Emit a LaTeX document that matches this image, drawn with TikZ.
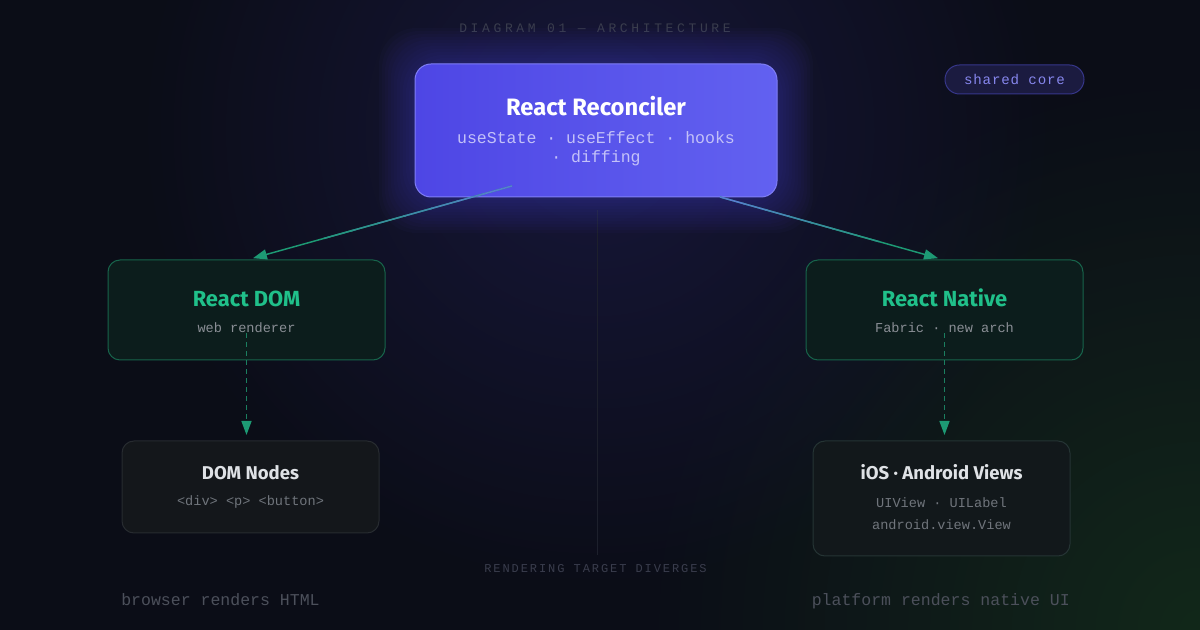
\documentclass[tikz,border=0pt]{standalone}
\usepackage{fontspec}
\setmainfont{Fira Sans}
\setmonofont{Liberation Mono}
\newfontfamily\spacedmono[LetterSpace=28]{Liberation Mono}
\newfontfamily\pillmono[LetterSpace=6]{Liberation Mono}
\newfontfamily\notemono[LetterSpace=16]{Liberation Mono}
\usetikzlibrary{arrows.meta,calc,fadings}
\tikzfading[name=softglow, inner color=transparent!0, outer color=transparent!100]

\definecolor{bgnavy}{HTML}{0B0D17}
\definecolor{bgtop}{HTML}{17173A}
\definecolor{bggreen}{HTML}{12281A}
\definecolor{glowpurple}{HTML}{5552E0}
\definecolor{recleft}{HTML}{4E46E5}
\definecolor{recright}{HTML}{6261F0}
\definecolor{recedge}{HTML}{7F7EF6}
\definecolor{recsub}{HTML}{C3C1F8}
\definecolor{pillfill}{HTML}{1B1B40}
\definecolor{pilledge}{HTML}{36368A}
\definecolor{pilltext}{HTML}{8787EE}
\definecolor{greenfill}{HTML}{0C1D1C}
\definecolor{greenedge}{HTML}{17644B}
\definecolor{greentitle}{HTML}{20C08A}
\definecolor{darkfill}{HTML}{14171B}
\definecolor{darkedge}{HTML}{272B30}
\definecolor{darktitle}{HTML}{DFE2E6}
\definecolor{subgray}{HTML}{8A8E95}
\definecolor{dimgray}{HTML}{70757C}
\definecolor{notegray}{HTML}{4C505B}
\definecolor{faintgray}{HTML}{3A3D4D}
\definecolor{divider}{HTML}{1D202C}
\definecolor{flowblue}{HTML}{5A7CD2}
\definecolor{arrowgreen}{HTML}{1D9A74}
\definecolor{dashgreen}{HTML}{1B7F60}

\begin{document}
\begin{tikzpicture}[x=0.75pt,y=-0.75pt,
  card/.style={rounded corners=9pt, line width=0.75pt, inner sep=0pt, outer sep=0pt},
  greencard/.style={card, draw=greenedge, fill=greenfill, minimum width=207.75pt, minimum height=75pt},
  darkcard/.style={card, draw=darkedge, fill=darkfill, minimum width=192.75pt},
  cardtitle/.style={anchor=base, font=\bfseries\fontsize{#1}{#1}\selectfont},
  cardsub/.style={anchor=base, text=subgray, font=\ttfamily\fontsize{10.2}{12}\selectfont},
  flow/.style={line width=1.1pt, draw=arrowgreen, shorten >=5pt, -{Triangle[length=10.5pt,width=7.5pt,color=arrowgreen]}},
  dashflow/.style={line width=1.1pt, draw=dashgreen, dash pattern=on 3.75pt off 3pt, shorten >=4.5pt, -{Triangle[length=10.5pt,width=7.5pt,color=arrowgreen]}}]

\useasboundingbox (0,0) rectangle (1200,630);
\fill[bgnavy] (0,0) rectangle (1200,630);
\begin{scope}
  \clip (0,0) rectangle (1200,630);
  \fill[bggreen, path fading=softglow] (1200,630) circle (560);
  \fill[bgtop, path fading=softglow] (596,130) circle (460);
\end{scope}

\node[anchor=base, text=faintgray, font=\spacedmono\fontsize{9.75}{12}\selectfont] (title) at (595,33) {DIAGRAM 01 — ARCHITECTURE};

\draw[divider, line width=0.75pt] (597,210) -- (597,555);

\foreach \g in {3,6,...,36}
  \fill[glowpurple, opacity=0.03, rounded corners=28pt] (415-\g,64-\g) rectangle (777+\g,197+\g);
\node[card, rounded corners=12pt, draw=recedge, left color=recleft, right color=recright, minimum width=271.5pt, minimum height=99.75pt] (rec) at (596,130.5) {};
\node[cardtitle=17.8, text=white] (rec-t) at (596,116) {React Reconciler};
\node[cardsub, text=recsub, font=\ttfamily\fontsize{12.4}{14}\selectfont] (rec-s1) at (596,144) {useState · useEffect · hooks};
\node[cardsub, text=recsub, font=\ttfamily\fontsize{12.4}{14}\selectfont] (rec-s2) at (596,163) {· diffing};

\node[card, rounded corners=10.875pt, draw=pilledge, fill=pillfill, minimum width=104.25pt, minimum height=21.75pt] (pill) at (1014.5,79.5) {};
\node[anchor=base, text=pilltext, font=\pillmono\fontsize{10.6}{12}\selectfont] (pill-t) at (1014.5,85) {shared core};

\node[greencard] (dom) at (246.5,310) {};
\node[cardtitle=16.4, text=greentitle] (dom-t) at (246.5,307) {React DOM};
\node[cardsub] (dom-s) at (246.5,333) {web renderer};

\node[greencard] (rn) at (944.5,310) {};
\node[cardtitle=16.4, text=greentitle] (rn-t) at (944.5,307) {React Native};
\node[cardsub] (rn-s) at (944.5,333) {Fabric · new arch};

\node[darkcard, minimum height=69pt] (domn) at (250.5,487) {};
\node[cardtitle=13.9, text=darktitle] (domn-t) at (250.5,480) {DOM Nodes};
\node[cardsub, text=dimgray] (domn-s) at (250.5,506) {<div> <p> <button>};

\node[darkcard, fill=darkfill!80!greenfill, draw=darkedge!85!greenedge, minimum height=86.25pt] (ios) at (941.5,498.5) {};
\node[cardtitle=13.9, text=darktitle] (ios-t) at (941.5,480) {iOS · Android Views};
\node[cardsub, text=dimgray] (ios-s1) at (941.5,508) {UIView · UILabel};
\node[cardsub, text=dimgray] (ios-s2) at (941.5,530) {android.view.View};

\coordinate (recL) at (512,186);
\coordinate (recR) at (720,197);
\draw[flow] (recL) -- (dom.north);
\draw[flow] (recR) -- (rn.north);
\foreach \i [evaluate=\i as \p using int(100-\i*14)] in {0,...,6} {
  \draw[line width=1.1pt, draw=flowblue!\p!arrowgreen] ($(recL)!\i/10!(dom.north)$) -- ($(recL)!\i/10+0.11!(dom.north)$);
  \draw[line width=1.1pt, draw=flowblue!\p!arrowgreen] ($(recR)!\i/10!(rn.north)$) -- ($(recR)!\i/10+0.11!(rn.north)$);
}
\coordinate (domdash) at ([yshift=20pt]dom.south);
\coordinate (rndash) at ([yshift=20pt]rn.south);
\draw[dashflow] (domdash) -- (domdash |- domn.north);
\draw[dashflow] (rndash) -- (rndash |- ios.north);

\node[anchor=base, text=faintgray, font=\notemono\fontsize{9}{10}\selectfont] (diverge) at (595.5,573) {RENDERING TARGET DIVERGES};
\node[anchor=base west, inner sep=0pt, text=notegray, font=\ttfamily\fontsize{12.4}{14}\selectfont] (web-note) at (121,605) {browser renders HTML};
\node[anchor=base east, inner sep=0pt, text=notegray, font=\ttfamily\fontsize{12.4}{14}\selectfont] (native-note) at (1070,605) {platform renders native UI};
\end{tikzpicture}
\end{document}
